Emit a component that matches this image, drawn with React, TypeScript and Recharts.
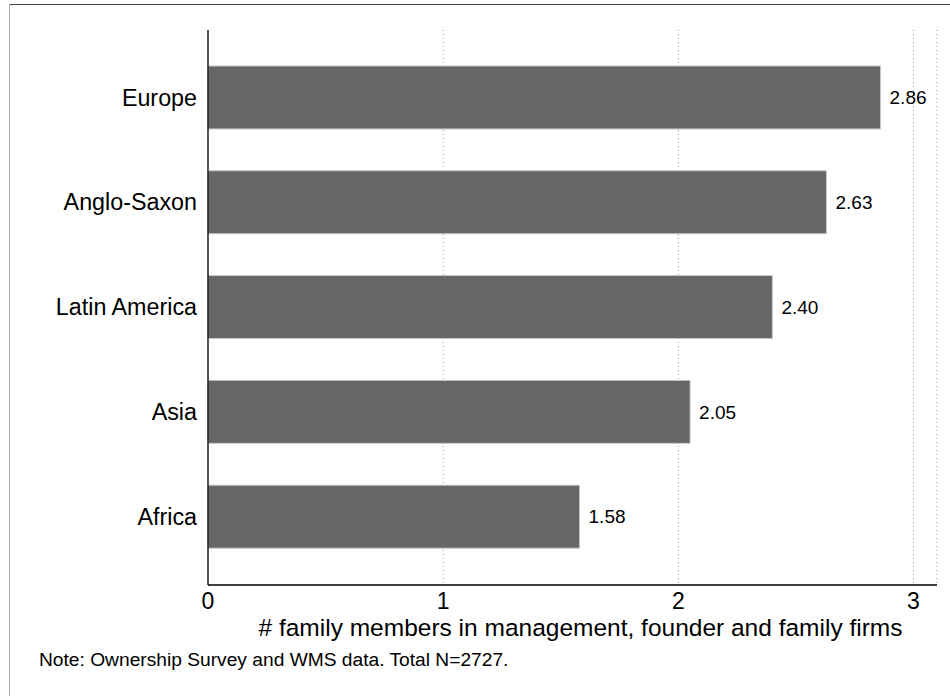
import { BarChart, Bar, XAxis, YAxis, CartesianGrid, LabelList } from "recharts";

const regions = ["Europe", "Anglo-Saxon", "Latin America", "Asia", "Africa"];
const familyMembers = [2.86, 2.63, 2.4, 2.05, 1.58];
const xTicks = [0, 1, 2, 3];

const axisTitle = "# family members in management, founder and family firms";
const note = "Note: Ownership Survey and WMS data. Total N=2727.";

const FONT = "Helvetica, Arial, 'Liberation Sans', sans-serif";

export default function App() {
  const chartData = regions.map((region, i) => ({
    region,
    value: familyMembers[i],
  }));

  return (
    <div
      style={{
        position: "absolute",
        left: 0,
        top: 0,
        width: 950,
        height: 696,
        background: "#fff",
        fontFamily: FONT,
      }}
    >
      {/* frame lines */}
      <div style={{ position: "absolute", left: 9, top: 4, right: 0, height: 1, background: "#444" }} />
      <div style={{ position: "absolute", left: 9, top: 4, bottom: 0, width: 1, background: "#aaa" }} />

      <BarChart
        width={950}
        height={696}
        data={chartData}
        layout="vertical"
        margin={{ top: 30, right: 13, bottom: 51, left: 0 }}
        barCategoryGap="20%"
        style={{ position: "absolute", left: 0, top: 0 }}
      >
        <CartesianGrid
          horizontal={false}
          vertical={true}
          stroke="#999"
          strokeDasharray="1 3"
        />
        <XAxis
          type="number"
          domain={[0, 3.1]}
          ticks={xTicks}
          allowDecimals={false}
          tickLine={false}
          tickSize={8}
          tickMargin={0}
          height={60}
          axisLine={{ stroke: "#000", strokeWidth: 1.3 }}
          tick={{ fill: "#000", fontSize: 23, fontFamily: FONT }}
          label={{
            value: axisTitle,
            position: "insideBottom",
            offset: 9,
            dx: 8,
            fill: "#000",
            fontSize: 24.5,
            fontFamily: FONT,
          }}
        />
        <YAxis
          type="category"
          dataKey="region"
          width={208}
          tickLine={false}
          tickSize={8}
          tickMargin={3}
          padding={{ top: 15, bottom: 16 }}
          axisLine={{ stroke: "#000", strokeWidth: 1.3 }}
          tick={{ fill: "#000", fontSize: 23.3, fontFamily: FONT }}
        />
        <Bar
          dataKey="value"
          fill="#666"
          stroke="#c8c8c8"
          strokeWidth={1}
          isAnimationActive={false}
        >
          <LabelList
            dataKey="value"
            position="right"
            offset={9}
            formatter={(v: number) => v.toFixed(2)}
            style={{ fill: "#000", fontSize: 19, fontFamily: FONT }}
          />
        </Bar>
      </BarChart>

      <div
        style={{
          position: "absolute",
          left: 39,
          top: 649,
          fontSize: 19.2,
          color: "#000",
          whiteSpace: "nowrap",
        }}
      >
        {note}
      </div>
    </div>
  );
}
